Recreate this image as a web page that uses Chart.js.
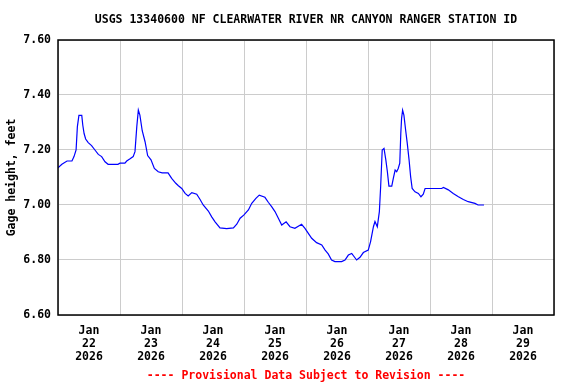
<!DOCTYPE html>
<html>
<head>
<meta charset="utf-8">
<script src="https://cdn.jsdelivr.net/npm/chart.js@4/dist/chart.umd.min.js"></script>
<style>
  body { margin: 0; background: #fff; }
  #chart { display: block; }
</style>
</head>
<body>
<canvas id="chart" width="576" height="384"></canvas>
<script>
const titleText = 'USGS 13340600 NF CLEARWATER RIVER NR CANYON RANGER STATION ID';
const footerText = '---- Provisional Data Subject to Revision ----';
const yTitle = 'Gage height, feet';

// x tick labels, one per day, placed at noon
const tickMonth = 'Jan';
const tickDays = ['22', '23', '24', '25', '26', '27', '28', '29'];
const tickYear = '2026';

// hours since Jan 22 00:00
const hours = [0, 1.5, 3.5, 5.4, 6.2, 7.0, 7.5, 8.1, 9.2, 9.6, 10.1, 10.7, 11.7, 13.0, 14.3, 15.6, 16.9, 18.2, 19.4, 23.2,
  24.0, 25.9, 26.6, 27.9, 29.1, 29.8, 30.5, 31.1, 31.7, 32.6, 33.7, 34.7, 36.0, 37.3, 38.8, 40.3, 42.6, 44.0, 45.6, 46.6,
  47.9, 49.2, 50.4, 51.8, 53.7, 55.0, 56.2, 58.2, 59.5, 60.8, 62.7, 65.3, 67.9, 69.2, 70.5, 72.0, 73.7, 75.0, 76.6, 77.9,
  80.1, 81.4, 82.7, 84.0, 85.3, 86.6, 88.3, 89.8, 91.7, 94.3, 95.6, 96.9, 98.2, 100.1, 102.1, 103.4, 104.6, 105.9, 107.2, 109.8,
  111.1, 112.4, 113.7, 115.6, 116.9, 118.2, 120.1, 121.0, 122.1, 122.7, 123.6, 124.4, 124.9, 125.5, 126.2, 126.9, 127.5, 128.1, 129.2, 129.8,
  130.5, 131.1, 131.7, 132.3, 132.7, 133.0, 133.4, 133.9, 134.6, 135.2, 135.9, 136.5, 137.1, 138.2, 139.5, 140.5, 141.4, 142.1, 148.5, 149.2,
  151.1, 153.0, 155.0, 156.9, 158.8, 161.4, 162.6, 164.9];
const gage = [7.135, 7.148, 7.16, 7.16, 7.176, 7.20, 7.285, 7.326, 7.326, 7.29, 7.26, 7.24, 7.227, 7.216, 7.20, 7.184, 7.176, 7.157, 7.148, 7.148,
  7.152, 7.152, 7.16, 7.168, 7.176, 7.194, 7.285, 7.345, 7.327, 7.27, 7.23, 7.18, 7.164, 7.133, 7.121, 7.117, 7.117, 7.097, 7.079, 7.07,
  7.06, 7.042, 7.033, 7.045, 7.039, 7.02, 7.00, 6.978, 6.957, 6.939, 6.917, 6.914, 6.917, 6.93, 6.952, 6.964, 6.982, 7.006, 7.024, 7.036,
  7.028, 7.01, 6.994, 6.976, 6.952, 6.927, 6.939, 6.921, 6.915, 6.93, 6.915, 6.897, 6.879, 6.863, 6.855, 6.836, 6.822, 6.80, 6.794, 6.794,
  6.80, 6.818, 6.824, 6.80, 6.81, 6.827, 6.836, 6.867, 6.921, 6.94, 6.921, 6.976, 7.067, 7.20, 7.206, 7.164, 7.121, 7.069, 7.069, 7.097,
  7.127, 7.121, 7.133, 7.152, 7.261, 7.315, 7.345, 7.327, 7.27, 7.224, 7.164, 7.103, 7.06, 7.048, 7.042, 7.03, 7.039, 7.06, 7.06, 7.064,
  7.055, 7.042, 7.03, 7.02, 7.012, 7.006, 7.00, 7.00];

const monoFont = '"DejaVu Sans Mono", "Liberation Mono", monospace';

// frame + title + footer, centred on the plot area like the USGS plot
const decorPlugin = {
  id: 'decor',
  afterDraw(chart) {
    const { ctx, chartArea } = chart;
    const cx = (chartArea.left + chartArea.right) / 2;
    ctx.save();
    ctx.strokeStyle = '#000';
    ctx.lineWidth = 1.5;
    ctx.strokeRect(chartArea.left, chartArea.top, chartArea.right - chartArea.left, chartArea.bottom - chartArea.top);
    ctx.font = 'bold 11.5px ' + monoFont;
    ctx.textAlign = 'center';
    ctx.textBaseline = 'middle';
    ctx.fillStyle = '#000';
    ctx.fillText(titleText, cx, 20);
    ctx.fillStyle = '#ff0000';
    ctx.fillText(footerText, cx, 376);
    ctx.restore();
  }
};

const ctx = document.getElementById('chart').getContext('2d');
new Chart(ctx, {
  type: 'line',
  data: {
    datasets: [{
      data: hours.map((h, i) => ({ x: h, y: gage[i] })),
      borderColor: '#0000ff',
      borderWidth: 1.2,
      pointRadius: 0,
      tension: 0,
      fill: false
    }]
  },
  options: {
    responsive: false,
    animation: false,
    devicePixelRatio: 1,
    layout: { padding: { left: 0, right: 22, top: 40, bottom: 15 } },
    plugins: {
      legend: { display: false },
      tooltip: { enabled: false }
    },
    scales: {
      x: {
        type: 'linear',
        min: 0,
        max: 192,
        afterFit: (scale) => { scale.height = 54; },
        border: { display: false },
        grid: {
          drawTicks: false,
          lineWidth: 1,
          color: (c) => (c.tick && c.tick.value % 24 === 0) ? '#cccccc' : 'rgba(0,0,0,0)'
        },
        ticks: {
          stepSize: 12,
          autoSkip: false,
          maxRotation: 0,
          padding: 10,
          color: '#000',
          font: { family: monoFont, size: 11.5, weight: 'bold', lineHeight: 1.12 },
          callback: (v) => {
            if (v % 24 !== 12) return '';
            return [tickMonth, tickDays[(v - 12) / 24], tickYear];
          }
        }
      },
      y: {
        min: 6.6,
        max: 7.6,
        afterFit: (scale) => { scale.width = 58; },
        border: { display: false },
        grid: { drawTicks: false, color: '#cccccc', lineWidth: 1 },
        ticks: {
          stepSize: 0.2,
          padding: 7,
          color: '#000',
          font: { family: monoFont, size: 11.5, weight: 'bold' },
          callback: (v) => Number(v).toFixed(2)
        },
        title: {
          display: true,
          text: yTitle,
          color: '#000',
          padding: { top: 5, bottom: 0 },
          font: { family: monoFont, size: 11.5, weight: 'bold' }
        }
      }
    }
  },
  plugins: [decorPlugin]
});
</script>
</body>
</html>
